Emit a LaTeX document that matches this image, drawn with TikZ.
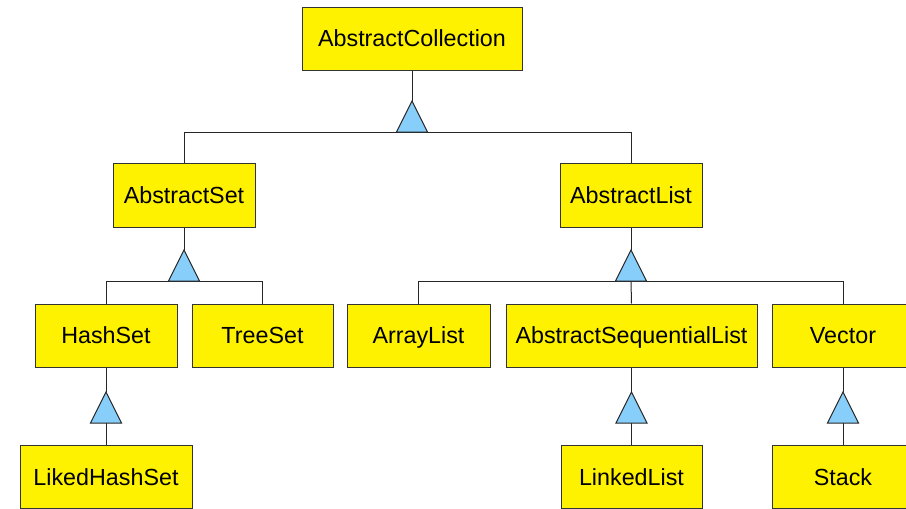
\documentclass[tikz,border=0pt]{standalone}
\usepackage{fontspec}
\setmainfont{Liberation Sans}
\begin{document}
\begin{tikzpicture}[x=1pt,y=-1pt,
  cls/.style={draw=black!80,line width=1pt,fill=yellow,inner sep=0pt,
    minimum height=63pt,text height=16.7pt,text depth=0pt,
    font=\fontsize{23.3}{28}\selectfont,text=black},
  conn/.style={draw=black!85,line width=1pt},
  tri/.style={draw=black!85,line width=1pt,fill={rgb,255:red,135;green,206;blue,250}}]
\clip (0,0) rectangle (906,509);
% classes
\node[cls,minimum width=220pt] (ac) at (412,38.5) {AbstractCollection};
\node[cls,minimum width=142pt,minimum height=64pt] (aset) at (184,195) {AbstractSet};
\node[cls,minimum width=142pt,minimum height=64pt] (alist) at (631,195) {AbstractList};
\node[cls,minimum width=142pt] (hash) at (106,335.5) {HashSet};
\node[cls,minimum width=141pt] (tree) at (262.5,335.5) {TreeSet};
\node[cls,minimum width=143pt] (arr) at (418.5,335.5) {ArrayList};
\node[cls,minimum width=251pt] (aseq) at (631.5,335.5) {AbstractSequentialList};
\node[cls,minimum width=142pt] (vec) at (843,335.5) {Vector};
\node[cls,minimum width=172pt] (liked) at (106,477) {LikedHashSet};
\node[cls,minimum width=141pt] (linked) at (631.5,477) {LinkedList};
\node[cls,minimum width=141pt] (stack) at (843,477) {Stack};
% triangle apexes
\coordinate (t1) at (412,101);
\coordinate (t2) at (184,250);
\coordinate (t3) at (631,250);
\coordinate (t4) at (106,392);
\coordinate (t5) at (631.5,392);
\coordinate (t6) at (843,392);
% base lines
\coordinate (b1) at (412,132);
\coordinate (b2) at (184,281);
\coordinate (b3) at (631,281);
\coordinate (b4) at (106,423);
\coordinate (b5) at (631.5,423);
\coordinate (b6) at (843,423);
% connectors
\draw[conn] (ac.south) -- (t1);
\draw[conn] (aset.north) -- (aset.north |- b1) -- (alist.north |- b1) -- (alist.north);
\draw[conn] (aset.south) -- (t2);
\draw[conn] (hash.north) -- (hash.north |- b2) -- (tree.north |- b2) -- (tree.north);
\draw[conn] (alist.south) -- (t3);
\draw[conn] (arr.north) -- (arr.north |- b3) -- (vec.north |- b3) -- (vec.north);
\draw[conn] (b3) -- (aseq.north);
\draw[conn] (hash.south) -- (t4);
\draw[conn] (b4) -- (liked.north);
\draw[conn] (aseq.south) -- (t5);
\draw[conn] (b5) -- (linked.north);
\draw[conn] (vec.south) -- (t6);
\draw[conn] (b6) -- (stack.north);
% triangles
\foreach \t in {t1,t2,t3,t4,t5,t6}
  \draw[tri] (\t) -- ++(15.5,31) -- ++(-31,0) -- cycle;
\end{tikzpicture}
\end{document}
